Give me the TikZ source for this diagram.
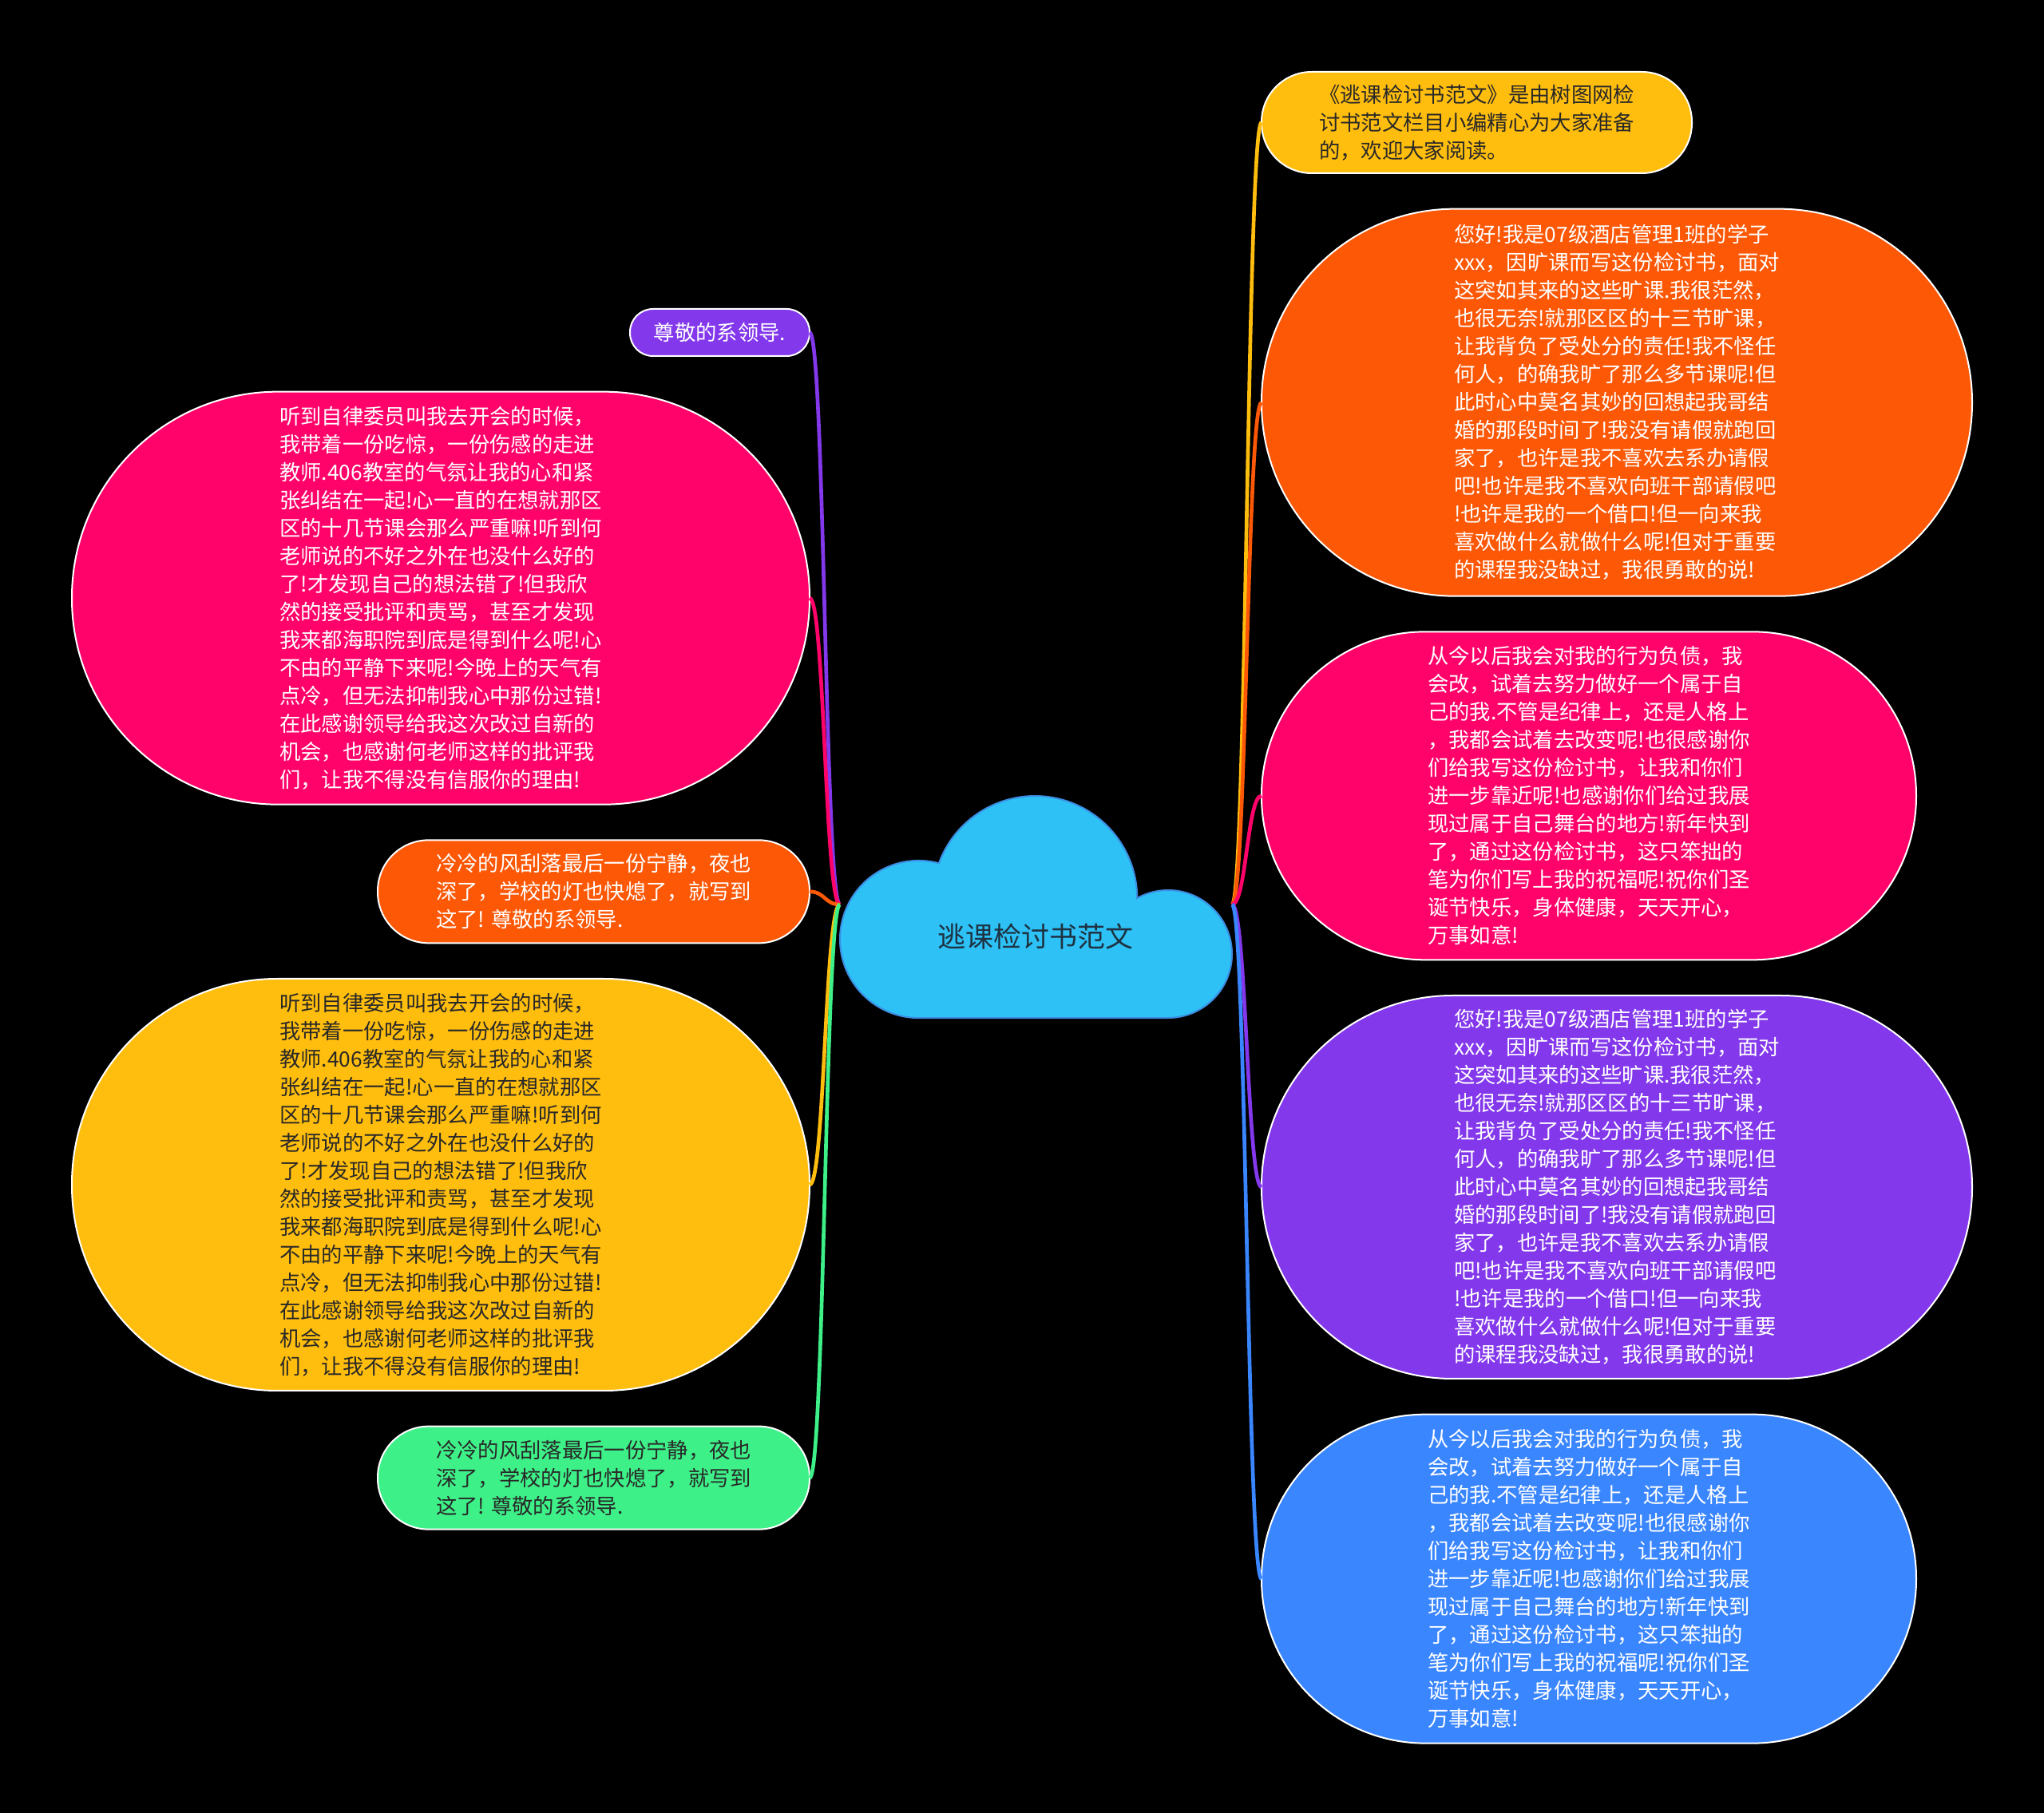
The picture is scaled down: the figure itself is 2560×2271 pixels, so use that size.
\documentclass[tikz,border=0pt]{standalone}
\usepackage{fontspec}
\setmainfont{Noto Sans CJK SC}
\usetikzlibrary{positioning, backgrounds}

\definecolor{cyellow}{RGB}{255,189,14}
\definecolor{corange}{RGB}{252,88,6}
\definecolor{cpink}{RGB}{255,3,106}
\definecolor{cpurple}{RGB}{131,56,236}
\definecolor{cblue}{RGB}{58,134,255}
\definecolor{cgreen}{RGB}{62,240,136}
\definecolor{ccloud}{RGB}{45,193,246}
\definecolor{ccloudedge}{RGB}{60,140,225}
\definecolor{ink}{RGB}{40,40,40}
\definecolor{rootink}{RGB}{30,50,65}

\newcommand\txtfont{\fontsize{7.9pt}{10.5pt}\selectfont}

\begin{document}
\begin{tikzpicture}[
  x=0.3pt, y=-0.3pt,
  node distance=13.4pt,
  bubble/.style={rectangle, draw=white, line width=0.6pt, align=left,
                 inner sep=2pt, outer sep=0pt, font=\txtfont, text=white},
  dims/.style 2 args={minimum width=#1, minimum height=#2,
                      rounded corners=#2/2-0.2pt},
  root/.style={font=\fontsize{10.5pt}{12pt}\selectfont, text=rootink,
               inner sep=0pt},
  cloud/.style={fill=ccloud, draw=ccloudedge, line width=0.6pt},
  link/.style={draw=#1, line width=1.4pt}
]

\begin{scope}[on background layer]
  \fill[black] (0,0) rectangle (2560,2271);
\end{scope}

% centre
\node[root] (root) at (1297,1173) {逃课检讨书范文};
\coordinate (rootL) at ([shift={(-245,-40)}]root.center);
\coordinate (rootR) at ([shift={(246,-40)}]root.center);

\begin{scope}[on background layer, shift={(root.center)}, x=0.3pt, y=0.3pt]
  \filldraw[cloud] (-146.4,-102) -- (166,-102)
    arc[start angle=-90, end angle=119, radius=80]
    arc[start angle=0, end angle=160, radius=128]
    arc[start angle=75.1, end angle=270, radius=98.6] -- cycle;
\end{scope}

% right branch
\node[bubble, dims={161.7pt}{38.1pt}, fill=cyellow, text=ink,
      anchor=north west] (r1) at (1580,90)
  {《逃课检讨书范文》是由树图网检\\
   讨书范文栏目小编精心为大家准备\\
   的，欢迎大家阅读。};
\node[bubble, dims={267pt}{145.5pt}, fill=corange,
      below=of r1.south west, anchor=north west] (r2)
  {您好!我是07级酒店管理1班的学子\\
   xxx，因旷课而写这份检讨书，面对\\
   这突如其来的这些旷课.我很茫然，\\
   也很无奈!就那区区的十三节旷课，\\
   让我背负了受处分的责任!我不怪任\\
   何人，的确我旷了那么多节课呢!但\\
   此时心中莫名其妙的回想起我哥结\\
   婚的那段时间了!我没有请假就跑回\\
   家了，也许是我不喜欢去系办请假\\
   吧!也许是我不喜欢向班干部请假吧\\
   !也许是我的一个借口!但一向来我\\
   喜欢做什么就做什么呢!但对于重要\\
   的课程我没缺过，我很勇敢的说!};
\node[bubble, dims={246pt}{123.3pt}, fill=cpink,
      below=of r2.south west, anchor=north west] (r3)
  {从今以后我会对我的行为负债，我\\
   会改，试着去努力做好一个属于自\\
   己的我.不管是纪律上，还是人格上\\
   ，我都会试着去改变呢!也很感谢你\\
   们给我写这份检讨书，让我和你们\\
   进一步靠近呢!也感谢你们给过我展\\
   现过属于自己舞台的地方!新年快到\\
   了，通过这份检讨书，这只笨拙的\\
   笔为你们写上我的祝福呢!祝你们圣\\
   诞节快乐，身体健康，天天开心，\\
   万事如意!};
\node[bubble, dims={267pt}{144pt}, fill=cpurple,
      below=of r3.south west, anchor=north west] (r4)
  {您好!我是07级酒店管理1班的学子\\
   xxx，因旷课而写这份检讨书，面对\\
   这突如其来的这些旷课.我很茫然，\\
   也很无奈!就那区区的十三节旷课，\\
   让我背负了受处分的责任!我不怪任\\
   何人，的确我旷了那么多节课呢!但\\
   此时心中莫名其妙的回想起我哥结\\
   婚的那段时间了!我没有请假就跑回\\
   家了，也许是我不喜欢去系办请假\\
   吧!也许是我不喜欢向班干部请假吧\\
   !也许是我的一个借口!但一向来我\\
   喜欢做什么就做什么呢!但对于重要\\
   的课程我没缺过，我很勇敢的说!};
\node[bubble, dims={246pt}{123.6pt}, fill=cblue,
      below=of r4.south west, anchor=north west] (r5)
  {从今以后我会对我的行为负债，我\\
   会改，试着去努力做好一个属于自\\
   己的我.不管是纪律上，还是人格上\\
   ，我都会试着去改变呢!也很感谢你\\
   们给我写这份检讨书，让我和你们\\
   进一步靠近呢!也感谢你们给过我展\\
   现过属于自己舞台的地方!新年快到\\
   了，通过这份检讨书，这只笨拙的\\
   笔为你们写上我的祝福呢!祝你们圣\\
   诞节快乐，身体健康，天天开心，\\
   万事如意!};

% left branch
\node[bubble, dims={67.5pt}{17.7pt}, fill=cpurple,
      anchor=north east] (l1) at (1014,387) {尊敬的系领导.};
\node[bubble, dims={277.2pt}{155.1pt}, fill=cpink,
      below=of l1.south east, anchor=north east] (l2)
  {听到自律委员叫我去开会的时候，\\
   我带着一份吃惊，一份伤感的走进\\
   教师.406教室的气氛让我的心和紧\\
   张纠结在一起!心一直的在想就那区\\
   区的十几节课会那么严重嘛!听到何\\
   老师说的不好之外在也没什么好的\\
   了!才发现自己的想法错了!但我欣\\
   然的接受批评和责骂，甚至才发现\\
   我来都海职院到底是得到什么呢!心\\
   不由的平静下来呢!今晚上的天气有\\
   点冷，但无法抑制我心中那份过错!\\
   在此感谢领导给我这次改过自新的\\
   机会，也感谢何老师这样的批评我\\
   们，让我不得没有信服你的理由!};
\node[bubble, dims={162.3pt}{38.7pt}, fill=corange,
      below=of l2.south east, anchor=north east] (l3)
  {冷冷的风刮落最后一份宁静，夜也\\
   深了，学校的灯也快熄了，就写到\\
   这了! 尊敬的系领导.};
\node[bubble, dims={277.2pt}{154.8pt}, fill=cyellow, text=ink,
      below=of l3.south east, anchor=north east] (l4)
  {听到自律委员叫我去开会的时候，\\
   我带着一份吃惊，一份伤感的走进\\
   教师.406教室的气氛让我的心和紧\\
   张纠结在一起!心一直的在想就那区\\
   区的十几节课会那么严重嘛!听到何\\
   老师说的不好之外在也没什么好的\\
   了!才发现自己的想法错了!但我欣\\
   然的接受批评和责骂，甚至才发现\\
   我来都海职院到底是得到什么呢!心\\
   不由的平静下来呢!今晚上的天气有\\
   点冷，但无法抑制我心中那份过错!\\
   在此感谢领导给我这次改过自新的\\
   机会，也感谢何老师这样的批评我\\
   们，让我不得没有信服你的理由!};
\node[bubble, dims={162.3pt}{38.7pt}, fill=cgreen, text=ink,
      below=of l4.south east, anchor=north east] (l5)
  {冷冷的风刮落最后一份宁静，夜也\\
   深了，学校的灯也快熄了，就写到\\
   这了! 尊敬的系领导.};

% links
\draw[link=cyellow] (rootR) .. controls +(18,0) and +(-18,0) .. (r1.west);
\draw[link=corange] (rootR) .. controls +(18,0) and +(-18,0) .. (r2.west);
\draw[link=cpink]   (rootR) .. controls +(18,0) and +(-18,0) .. (r3.west);
\draw[link=cpurple] (rootR) .. controls +(18,0) and +(-18,0) .. (r4.west);
\draw[link=cblue]   (rootR) .. controls +(18,0) and +(-18,0) .. (r5.west);

\draw[link=cpurple] (l1.east) .. controls +(19,0) and +(-19,0) .. (rootL);
\draw[link=cpink]   (l2.east) .. controls +(19,0) and +(-19,0) .. (rootL);
\draw[link=corange] (l3.east) .. controls +(19,0) and +(-19,0) .. (rootL);
\draw[link=cyellow] (l4.east) .. controls +(19,0) and +(-19,0) .. (rootL);
\draw[link=cgreen]  (l5.east) .. controls +(19,0) and +(-19,0) .. (rootL);

\end{tikzpicture}
\end{document}
